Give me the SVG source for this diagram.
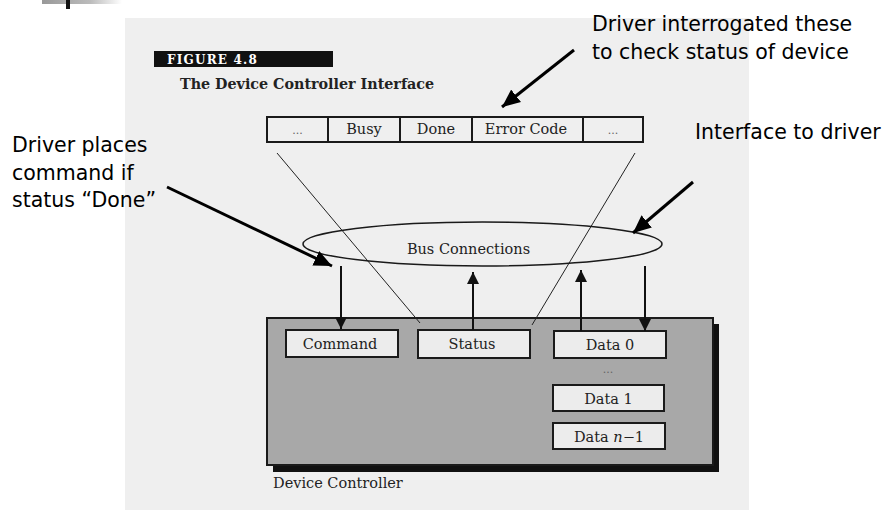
<svg xmlns="http://www.w3.org/2000/svg" width="891" height="510" viewBox="0 0 891 510">
  <defs>
    <linearGradient id="fade" x1="0" y1="0" x2="1" y2="0">
      <stop offset="0" stop-color="#999"/>
      <stop offset="0.6" stop-color="#bbb"/>
      <stop offset="1" stop-color="#fff"/>
    </linearGradient>
    <marker id="ah" markerUnits="userSpaceOnUse" markerWidth="12" markerHeight="12" refX="12" refY="6" orient="auto">
      <path d="M0,0 L12,6 L0,12 z" fill="#111"/>
    </marker>
    <marker id="ahBig" markerUnits="userSpaceOnUse" markerWidth="18" markerHeight="16" refX="18" refY="8" orient="auto">
      <path d="M0,0 L18,8 L0,16 z" fill="#000"/>
    </marker>
  </defs>
  <style>
    .page { fill: #efefef; }
    .reg { fill: #efefef; stroke: #1a1a1a; stroke-width: 2; }
    .box { fill: #ececec; stroke: #1a1a1a; stroke-width: 2; }
    .serif { font-family: "DejaVu Serif", "Liberation Serif", serif; font-size: 14.5px; fill: #222; }
    .dots { font-family: "DejaVu Serif", "Liberation Serif", serif; font-size: 11px; fill: #666; }
    .note { font-family: "DejaVu Sans", "Liberation Sans", sans-serif; font-size: 20.5px; fill: #000; }
    .thin { stroke: #222; stroke-width: 1; fill: none; }
    .arr { stroke: #111; stroke-width: 2; fill: none; marker-end: url(#ah); }
    .call { stroke: #000; stroke-width: 3; fill: none; marker-end: url(#ahBig); }
  </style>

  <!-- background -->
  <rect x="0" y="0" width="891" height="510" fill="#fff"/>
  <rect x="42" y="0" width="80" height="4" fill="url(#fade)"/>
  <rect x="66" y="0" width="4" height="9" fill="#111"/>
  <rect class="page" x="125" y="18" width="624" height="492"/>

  <!-- figure caption -->
  <g id="caption">
    <rect x="154" y="51" width="179" height="16" fill="#111"/>
    <text x="167" y="64" font-family="'DejaVu Serif', 'Liberation Serif', serif" font-weight="bold" font-size="12" letter-spacing="1.2" fill="#fff">FIGURE 4.8</text>
    <text x="180" y="89" font-family="'DejaVu Serif', 'Liberation Serif', serif" font-weight="bold" font-size="14.3" fill="#222">The Device Controller Interface</text>
  </g>

  <!-- device controller -->
  <g id="device-controller">
    <rect x="273" y="324" width="446" height="148" fill="#111"/>
    <rect x="267" y="318" width="446" height="147" fill="#a8a8a8" stroke="#1a1a1a" stroke-width="2"/>
    <text class="serif" x="273" y="488">Device Controller</text>
  </g>

  <!-- thin lines from register row -->
  <g id="register-lines">
    <line class="thin" x1="277" y1="153" x2="420" y2="323"/>
    <line class="thin" x1="635" y1="153" x2="532" y2="325"/>
  </g>

  <!-- register row -->
  <g id="register-row">
    <rect class="reg" x="267" y="117" width="376" height="25"/>
    <line x1="328" y1="117" x2="328" y2="142" stroke="#1a1a1a" stroke-width="2"/>
    <line x1="400" y1="117" x2="400" y2="142" stroke="#1a1a1a" stroke-width="2"/>
    <line x1="472" y1="117" x2="472" y2="142" stroke="#1a1a1a" stroke-width="2"/>
    <line x1="583" y1="117" x2="583" y2="142" stroke="#1a1a1a" stroke-width="2"/>
    <text class="dots" x="297.5" y="134" text-anchor="middle">...</text>
    <text class="serif" x="364" y="134" text-anchor="middle">Busy</text>
    <text class="serif" x="436" y="134" text-anchor="middle">Done</text>
    <text class="serif" x="526" y="134" text-anchor="middle">Error Code</text>
    <text class="dots" x="613" y="134" text-anchor="middle">...</text>
  </g>

  <!-- bus connections -->
  <g id="bus">
    <ellipse cx="482.5" cy="244" rx="179.5" ry="22" fill="none" stroke="#1a1a1a" stroke-width="1.5"/>
    <text class="serif" x="468.5" y="254" text-anchor="middle" font-size="15">Bus Connections</text>
  </g>

  <!-- registers -->
  <g id="command">
    <rect class="box" x="286" y="330" width="112" height="27"/>
    <text class="serif" x="340" y="349" text-anchor="middle" font-size="15">Command</text>
  </g>
  <g id="status">
    <rect class="box" x="418" y="330" width="112" height="28"/>
    <text class="serif" x="472" y="349" text-anchor="middle">Status</text>
  </g>
  <g id="data0">
    <rect class="box" x="554" y="331" width="112" height="27"/>
    <text class="serif" x="610" y="350" text-anchor="middle">Data 0</text>
  </g>
  <text class="dots" x="608" y="373" text-anchor="middle" fill="#444">...</text>
  <g id="data1">
    <rect class="box" x="553" y="385" width="111" height="26"/>
    <text class="serif" x="608.5" y="404" text-anchor="middle">Data 1</text>
  </g>
  <g id="datan">
    <rect class="box" x="553" y="423" width="112" height="26"/>
    <text class="serif" x="609" y="442" text-anchor="middle">Data <tspan font-style="italic">n</tspan>−1</text>
  </g>

  <!-- connectors -->
  <g id="connectors">
    <line class="arr" x1="341" y1="266" x2="341" y2="329"/>
    <line class="arr" x1="473" y1="330" x2="473" y2="272"/>
    <line class="arr" x1="581" y1="331" x2="581" y2="270"/>
    <line class="arr" x1="645" y1="266" x2="645" y2="331"/>
    <line class="call" x1="574" y1="50" x2="502" y2="107"/>
    <line class="call" x1="167" y1="187" x2="332" y2="266"/>
    <line class="call" x1="693" y1="182" x2="633" y2="233"/>
  </g>

  <!-- callout notes -->
  <g id="note-interrogate">
    <text class="note" x="592" y="31">Driver interrogated these</text>
    <text class="note" x="592" y="59">to check status of device</text>
  </g>
  <g id="note-places">
    <text class="note" x="12" y="152">Driver places</text>
    <text class="note" x="12" y="180">command if</text>
    <text class="note" x="12" y="207">status “Done”</text>
  </g>
  <g id="note-interface">
    <text class="note" x="695" y="139">Interface to driver</text>
  </g>
</svg>
